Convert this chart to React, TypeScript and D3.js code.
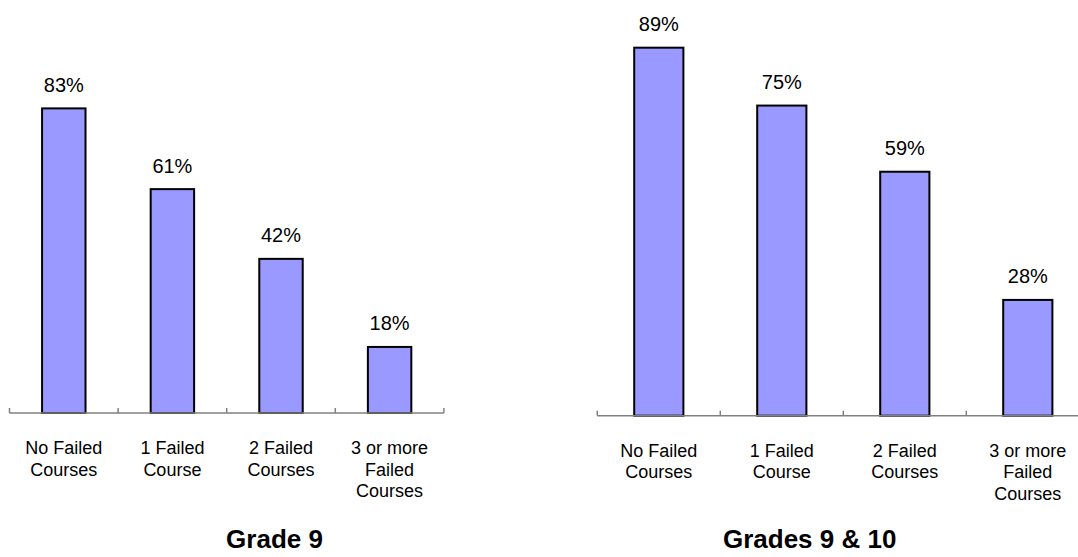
import React from "react";
import * as d3 from "d3";

const categories: string[][] = [
  ["No Failed", "Courses"],
  ["1 Failed", "Course"],
  ["2 Failed", "Courses"],
  ["3 or more", "Failed", "Courses"],
];
const grade9Values = [83, 61, 42, 18];
const grades9and10Values = [89, 75, 59, 28];
const panelTitles = ["Grade 9", "Grades 9 & 10"];

const WIDTH = 1078;
const HEIGHT = 557;
const FONT = "'Liberation Sans', Arial, Helvetica, sans-serif";
const BAR_FILL = "#9999FF";

type Panel = {
  values: number[];
  title: string;
  x0: number;
  band: number;
  axisY: number;
  top100: number;
  titleX: number;
};

const panels: Panel[] = [
  { values: grade9Values, title: panelTitles[0], x0: 9.5, band: 108.6, axisY: 413, top100: 46, titleX: 274.5 },
  { values: grades9and10Values, title: panelTitles[1], x0: 597.3, band: 123, axisY: 415.7, top100: 2.2, titleX: 809.7 },
];

function BarPanel({ p }: { p: Panel }) {
  const keys = categories.map((c) => c.join(" "));
  const x = d3
    .scaleBand<string>()
    .domain(keys)
    .range([p.x0, p.x0 + p.band * keys.length])
    .padding(0);
  const y = d3.scaleLinear().domain([0, 100]).range([p.axisY, p.top100]);
  const bw = x.bandwidth();
  const barW = bw * 0.4;
  const tickXs = [...keys.map((k) => x(k)!), p.x0 + bw * keys.length];

  return (
    <g>
      {p.values.map((v, i) => {
        const cx = x(keys[i])! + bw / 2;
        return (
          <g key={keys[i]}>
            <rect
              x={cx - barW / 2}
              y={y(v)}
              width={barW}
              height={y(0) - y(v)}
              fill={BAR_FILL}
              stroke="#000"
              strokeWidth={2}
            />
            <text
              x={cx}
              y={y(v) - 16.5}
              textAnchor="middle"
              fontFamily={FONT}
              fontSize={20}
              fill="#000"
            >
              {`${v}%`}
            </text>
            <text textAnchor="middle" fontFamily={FONT} fontSize={18} fill="#000">
              {categories[i].map((line, j) => (
                <tspan key={j} x={cx} y={p.axisY + 41 + j * 21.5}>
                  {line}
                </tspan>
              ))}
            </text>
          </g>
        );
      })}
      <line
        x1={p.x0}
        x2={p.x0 + bw * keys.length}
        y1={p.axisY}
        y2={p.axisY}
        stroke="#808080"
        strokeWidth={1.5}
      />
      {tickXs.map((tx, i) => (
        <line key={i} x1={tx} x2={tx} y1={p.axisY} y2={p.axisY - 5} stroke="#808080" strokeWidth={1.5} />
      ))}
      <text
        x={p.titleX}
        y={548}
        textAnchor="middle"
        fontFamily={FONT}
        fontSize={26}
        fontWeight="bold"
        fill="#000"
      >
        {p.title}
      </text>
    </g>
  );
}

export default function App() {
  return (
    <svg
      width={WIDTH}
      height={HEIGHT}
      style={{ position: "absolute", left: 0, top: 0, background: "#fff" }}
    >
      <rect width={WIDTH} height={HEIGHT} fill="#fff" />
      {panels.map((p) => (
        <BarPanel key={p.title} p={p} />
      ))}
    </svg>
  );
}
